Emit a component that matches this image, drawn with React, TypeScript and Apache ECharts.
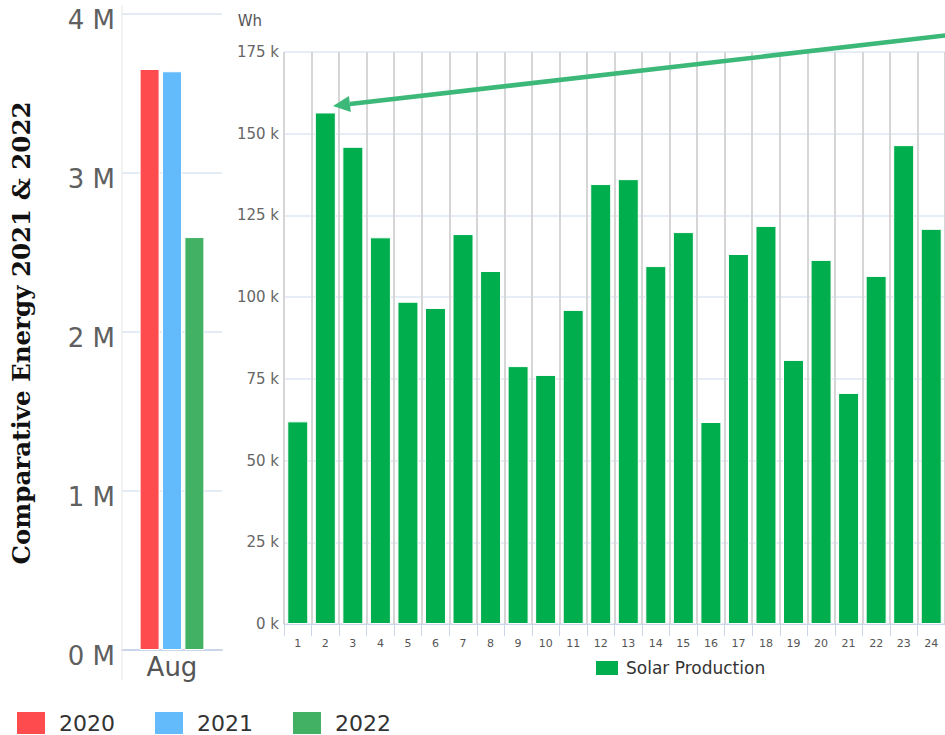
import React, { useEffect, useRef } from "react";
import * as echarts from "echarts";

const years = ["2020", "2021", "2022"];
const yearColors = ["#fe4b4e", "#64bbfc", "#43b164"];
const yearTotals = [3654000, 3640000, 2597000];
const monthCats = ["Aug"];

const days = ["1","2","3","4","5","6","7","8","9","10","11","12","13","14","15","16","17","18","19","20","21","22","23","24"];
const solarWh = [62000,156500,146000,118300,98600,96700,119300,108000,78900,76200,96100,134600,136100,109500,119900,61800,113200,121800,80800,111400,70700,106500,146500,120900];

const titleText = "Comparative Energy 2021 & 2022";

export default function App() {
  const ref = useRef<HTMLDivElement>(null);
  useEffect(() => {
    if (!ref.current) return;
    const chart = echarts.init(ref.current, null, { renderer: "svg" });
    const sans = "DejaVu Sans";
    const leftSeries = years.map((y, i) => ({
      name: y,
      type: "bar",
      xAxisIndex: 0,
      yAxisIndex: 0,
      data: [yearTotals[i]],
      barWidth: 20,
      barGap: "12%",
      itemStyle: { color: yearColors[i], borderColor: "#fff", borderWidth: 1 },
    }));
    // arrow geometry (annotation)
    const tip = [333, 106];
    const start = [950, 35];
    const dx = tip[0] - start[0], dy = tip[1] - start[1];
    const len = Math.sqrt(dx * dx + dy * dy);
    const ux = dx / len, uy = dy / len;
    const hl = 17, hw = 8;
    const bx = tip[0] - ux * hl, by = tip[1] - uy * hl;
    const nx = -uy, ny = ux;
    chart.setOption({
      animation: false,
      backgroundColor: "#ffffff",
      grid: [
        { left: 122, top: 14, width: 100, height: 636 },
        { left: 284, top: 52, width: 667, height: 572 },
      ],
      legend: [
        {
          data: years,
          left: 15,
          top: 710,
          padding: 0,
          itemWidth: 30,
          itemHeight: 24,
          itemGap: 38,
          icon: "rect",
          textStyle: { fontSize: 22, color: "#333", fontFamily: sans, padding: [0, 0, 0, 8] },
        },
        {
          data: ["Solar Production"],
          left: 594,
          top: 659,
          padding: 0,
          itemWidth: 24,
          itemHeight: 16,
          icon: "rect",
          textStyle: { fontSize: 17, color: "#333", fontFamily: sans, padding: [0, 0, 0, 2] },
        },
      ],
      xAxis: [
        {
          gridIndex: 0,
          type: "category",
          data: monthCats,
          axisLine: { lineStyle: { color: "#ccd6eb", width: 2 } },
          axisTick: { show: false },
          axisLabel: { fontSize: 26, color: "#555", fontFamily: sans, margin: 4 },
        },
        {
          gridIndex: 1,
          type: "category",
          data: days,
          axisLine: { lineStyle: { color: "#ccd6eb", width: 1 } },
          axisTick: { show: true, length: 12, lineStyle: { color: "#ccd6eb" } },
          axisLabel: { fontSize: 11, color: "#555", fontFamily: sans, margin: 14, interval: 0 },
          splitLine: { show: true, lineStyle: { color: "#d6d6d6", width: 2 } },
        },
      ],
      yAxis: [
        {
          gridIndex: 0,
          type: "value",
          min: 0,
          max: 4000000,
          interval: 1000000,
          axisLine: { show: false },
          axisTick: { show: false },
          axisLabel: {
            margin: 7,
            formatter: (v: number) => "{a|" + v / 1000000 + " M}",
            rich: {
              a: { fontSize: 26, color: "#606060", fontFamily: sans, padding: [12, 0, 0, 0] },
            },
          },
          splitLine: { lineStyle: { color: "#e3ebf5", width: 2 } },
        },
        {
          gridIndex: 1,
          type: "value",
          min: 0,
          max: 175000,
          interval: 25000,
          name: "Wh",
          nameLocation: "end",
          nameGap: 24,
          nameTextStyle: { fontSize: 15, color: "#555", fontFamily: sans, align: "right", padding: [0, 22, 0, 0] },
          axisLine: { show: false },
          axisTick: { show: false },
          axisLabel: {
            fontSize: 15,
            color: "#666",
            fontFamily: sans,
            margin: 5,
            formatter: (v: number) => v / 1000 + " k",
          },
          splitLine: { lineStyle: { color: "#e6edf6", width: 2 } },
        },
      ],
      series: [
        ...leftSeries,
        {
          name: "Solar Production",
          type: "bar",
          xAxisIndex: 1,
          yAxisIndex: 1,
          data: solarWh,
          barWidth: 21,
          itemStyle: { color: "#00ae4d", borderColor: "#fff", borderWidth: 1 },
        },
      ],
      graphic: [
        {
          type: "line",
          z: 50,
          shape: { x1: 122, y1: 5, x2: 122, y2: 680 },
          style: { stroke: "#e6e6e6", lineWidth: 1 },
        },
        {
          type: "text",
          z: 50,
          x: 21,
          y: 333,
          rotation: Math.PI / 2,
          style: {
            text: titleText,
            fontFamily: "DejaVu Serif",
            fontWeight: "bold",
            fontSize: 24.5,
            fill: "#111",
            align: "center",
            verticalAlign: "middle",
          },
        },
        {
          type: "line",
          z: 100,
          shape: { x1: start[0], y1: start[1], x2: bx, y2: by },
          style: { stroke: "#3cb878", lineWidth: 4.5 },
        },
        {
          type: "polygon",
          z: 100,
          shape: {
            points: [
              [tip[0], tip[1]],
              [bx + nx * hw, by + ny * hw],
              [bx - nx * hw, by - ny * hw],
            ],
          },
          style: { fill: "#3cb878" },
        },
      ],
    });
    return () => chart.dispose();
  }, []);
  return (
    <div
      ref={ref}
      style={{ position: "fixed", left: 0, top: 0, width: 945, height: 735 }}
    />
  );
}
